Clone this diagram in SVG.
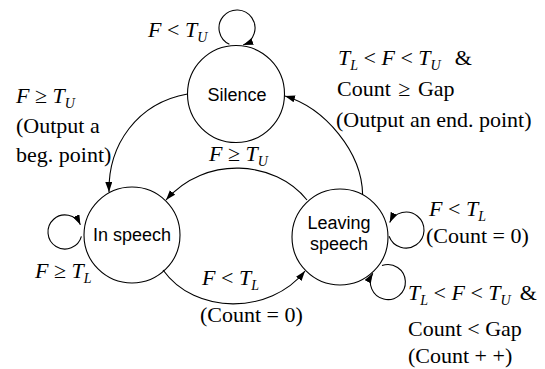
<svg xmlns="http://www.w3.org/2000/svg" width="545" height="369" viewBox="0 0 545 369">
<style>
.bg{fill:#fff}
.node circle{fill:none;stroke:#000;stroke-width:1.1}
.node text{font-family:"Liberation Sans",Arial,sans-serif;font-size:18px;text-anchor:middle;fill:#000}
.edge{fill:none;stroke:#000;stroke-width:1.1;marker-end:url(#arr)}
.lbl{font-family:"Liberation Serif","Times New Roman",serif;font-size:22px;fill:#000}
.i{font-style:italic}
.s{font-style:italic;font-size:14px}
</style>
<defs>
<marker id="arr" markerUnits="userSpaceOnUse" markerWidth="11" markerHeight="8" refX="10" refY="3.5" orient="auto">
<path d="M0,0 L10,3.5 L0,7 z" fill="#000"/>
</marker>
</defs>
<rect class="bg" x="0" y="0" width="545" height="369"/>
<g id="connectors">
<path class="edge" d="M187.5,94 C137,103 108,145 109,192"/>
<path class="edge" d="M362.6,194.6 C362,152 325,108 285,96"/>
<path class="edge" d="M307,200 C275,160 205,155 166,200"/>
<path class="edge" d="M163,270 C195,315 270,315 305,271"/>
<path class="edge" d="M229.4,44.3 A18,18 0 1 1 243.2,44.9"/>
<path class="edge" d="M81.4,236.4 A17,17 0 1 1 80.4,224.8"/>
<path class="edge" d="M389.1,236.2 A18,18 0 1 0 389.7,222.4"/>
<path class="edge" d="M382,265.6 A17.5,17.5 0 1 1 372.8,273.2"/>
</g>
<g id="silence" class="node">
<circle cx="236" cy="94" r="48.5"/>
<text x="237" y="100.5">Silence</text>
</g>
<g id="in-speech" class="node">
<circle cx="132" cy="235" r="48"/>
<text x="132" y="241">In speech</text>
</g>
<g id="leaving-speech" class="node">
<circle cx="340" cy="237" r="48"/>
<text x="339" y="229">Leaving</text>
<text x="339" y="250">speech</text>
</g>
<g id="labels" class="lbl">
<text x="148" y="37"><tspan class="i">F</tspan> &lt; <tspan class="i">T</tspan><tspan class="s" dy="5">U</tspan></text>
<text x="16" y="103"><tspan class="i">F</tspan> ≥ <tspan class="i">T</tspan><tspan class="s" dy="5">U</tspan></text>
<text x="16" y="133">(Output a</text>
<text x="16" y="162">beg. point)</text>
<text x="338" y="65"><tspan class="i">T</tspan><tspan class="s" dy="5">L</tspan><tspan dy="-5"> &lt; </tspan><tspan class="i">F</tspan> &lt; <tspan class="i">T</tspan><tspan class="s" dy="5">U</tspan><tspan dy="-5" dx="14">&amp;</tspan></text>
<text x="337" y="96">Count <tspan dx="2">≥</tspan> <tspan dx="2">Gap</tspan></text>
<text x="336" y="127">(Output an end. point)</text>
<text x="209" y="161"><tspan class="i">F</tspan> ≥ <tspan class="i">T</tspan><tspan class="s" dy="5">U</tspan></text>
<text x="429" y="216"><tspan class="i">F</tspan> &lt; <tspan class="i">T</tspan><tspan class="s" dy="5">L</tspan></text>
<text x="426" y="243">(Count = 0)</text>
<text x="35" y="278"><tspan class="i">F</tspan> ≥ <tspan class="i">T</tspan><tspan class="s" dy="5">L</tspan></text>
<text x="202" y="285"><tspan class="i">F</tspan> &lt; <tspan class="i">T</tspan><tspan class="s" dy="5">L</tspan></text>
<text x="200" y="322">(Count = 0)</text>
<text x="408" y="300"><tspan class="i">T</tspan><tspan class="s" dy="5">L</tspan><tspan dy="-5"> &lt; </tspan><tspan class="i">F</tspan> &lt; <tspan class="i">T</tspan><tspan class="s" dy="5">U</tspan><tspan dy="-5" dx="9">&amp;</tspan></text>
<text x="408" y="336">Count &lt; Gap</text>
<text x="408" y="363">(Count + +)</text>
</g>
</svg>
